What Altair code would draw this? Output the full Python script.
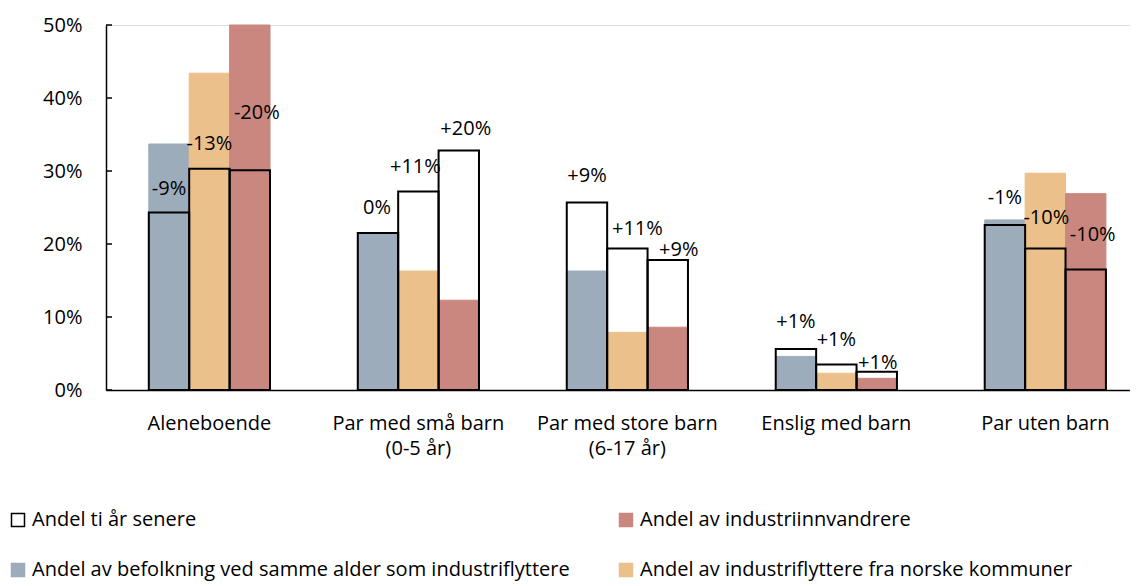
import altair as alt
import pandas as pd

categories = ["Aleneboende", "Par med små barn|(0-5 år)", "Par med store barn|(6-17 år)",
              "Enslig med barn", "Par uten barn"]

S_LATER = "Andel ti år senere"
S_INNV = "Andel av industriinnvandrere"
S_BEF = "Andel av befolkning ved samme alder som industriflyttere"
S_NOR = "Andel av industriflyttere fra norske kommuner"

bef_start = [33.7, 21.5, 16.3, 4.6, 23.3]
bef_later = [24.3, 21.5, 25.7, 5.6, 22.6]
bef_label = ["-9%", "0%", "+9%", "+1%", "-1%"]

nor_start = [43.4, 16.3, 7.9, 2.3, 29.7]
nor_later = [30.3, 27.2, 19.4, 3.5, 19.4]
nor_label = ["-13%", "+11%", "+11%", "+1%", "-10%"]

inn_start = [50.0, 12.3, 8.6, 1.6, 26.9]
inn_later = [30.1, 32.8, 17.8, 2.5, 16.5]
inn_label = ["-20%", "+20%", "+9%", "+1%", "-10%"]

# label placement: lift above the outline top (percentage points) and sideways nudge
bef_lift = [3.3, 3.4, 3.6, 3.7, 3.7]
nor_lift = [3.4, 3.4, 2.7, 3.4, 4.1]
inn_lift = [7.9, 2.9, 1.4, 1.2, 4.7]
bef_nudge = [0, -1, 0, 0, 0]
nor_nudge = [0, -3, 10, 0, 1]
inn_nudge = [7, 7, 11, 1, 7]

y_ticks = [0, 10, 20, 30, 40, 50]

rows = []
for name, st, lt, lb, lf, nd in [(S_BEF, bef_start, bef_later, bef_label, bef_lift, bef_nudge),
                                 (S_NOR, nor_start, nor_later, nor_label, nor_lift, nor_nudge),
                                 (S_INNV, inn_start, inn_later, inn_label, inn_lift, inn_nudge)]:
    for c, s, l, t, f, n in zip(categories, st, lt, lb, lf, nd):
        rows.append({"category": c, "series": name, "start": s, "later": l,
                     "label": t, "lift": f, "nudge": n})
df = pd.DataFrame(rows)
ticks_df = pd.DataFrame({"v": y_ticks})

FONT = "Open Sans"
FS = 20
BLUE = "#9dacbb"
ORANGE = "#ebc08a"
RED = "#c9877f"

legend_domain = [S_LATER, S_INNV, S_BEF, S_NOR]

x_enc = alt.X("category:N", sort=categories,
              scale=alt.Scale(paddingInner=0.42, paddingOuter=0.16, align=0.64),
              axis=alt.Axis(title=None, labelExpr="split(datum.label, '|')", ticks=False,
                            labelPadding=23, labelFontSize=FS, labelFont=FONT, labelColor="black",
                            labelLineHeight=25, labelAngle=0, labelLimit=400,
                            domainColor="black", domainWidth=1.5))
xoff = alt.XOffset("series:N", sort=[S_BEF, S_NOR, S_INNV],
                   scale=alt.Scale(domain=[S_BEF, S_NOR, S_INNV], paddingInner=0, paddingOuter=0))
y_scale = alt.Scale(domain=[0, 50], nice=False)

legend = alt.Legend(title=None, orient="none", legendX=-98, legendY=485, columns=2,
                    direction="horizontal",
                    symbolType="square", symbolSize=169, symbolStrokeWidth=1.5,
                    labelFontSize=FS, labelFont=FONT, labelColor="black", labelLimit=1000,
                    rowPadding=30, columnPadding=46, labelOffset=4)

fill_bars = alt.Chart(df).mark_bar().encode(
    x=x_enc,
    xOffset=xoff,
    y=alt.Y("start:Q", scale=y_scale,
            axis=alt.Axis(title=None, values=y_ticks, labelExpr="datum.value + '%'", grid=False,
                          ticks=False, labelPadding=24, labelFontSize=FS, labelFont=FONT,
                          labelColor="black", domainColor="black", domainWidth=1.5)),
    color=alt.Color("series:N", scale=alt.Scale(domain=legend_domain,
                                                range=["white", RED, BLUE, ORANGE]),
                    legend=legend),
    stroke=alt.Stroke("series:N", scale=alt.Scale(domain=legend_domain,
                                                  range=["black", RED, BLUE, ORANGE]),
                      legend=legend),
)

outline_bars = alt.Chart(df).mark_bar(fill="transparent", stroke="black", strokeWidth=2).encode(
    x=x_enc, xOffset=xoff, y=alt.Y("later:Q", scale=y_scale))

labels = alt.Chart(df).transform_calculate(
    label_y="datum.later + datum.lift"
).mark_text(fontSize=FS, font=FONT, color="black", baseline="middle",
            dx=alt.ExprRef("datum.nudge")).encode(
    x=x_enc, xOffset=xoff, y=alt.Y("label_y:Q", scale=y_scale), text="label:N")

tick_rules = alt.Chart(ticks_df).mark_rule(color="black", strokeWidth=1.5).encode(
    y=alt.Y("v:Q", scale=y_scale), x=alt.value(0), x2=alt.value(6))

chart = alt.layer(fill_bars, outline_bars, labels, tick_rules).properties(
    width=1024, height=365, autosize="none",
    padding={"left": 98, "top": 17, "right": 0, "bottom": 196},
).configure_view(stroke=None).configure(background="white")

chart.save("out.html", embed_options={"renderer": "svg", "actions": False})
